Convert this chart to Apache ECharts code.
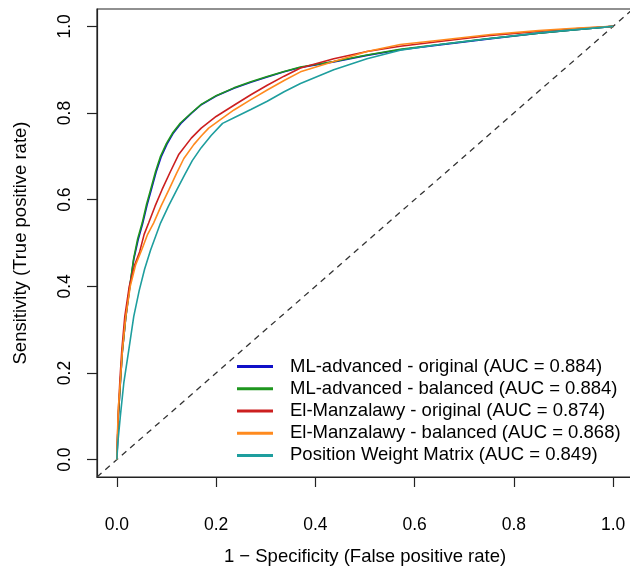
<!DOCTYPE html>
<html>
<head>
<meta charset="utf-8">
<script src="https://cdn.jsdelivr.net/npm/echarts@6/dist/echarts.min.js"></script>
<style>
html,body{margin:0;padding:0;background:#fff;}
#c{width:630px;height:567px;}
</style>
</head>
<body>
<div id="c"></div>
<script>
// ---- Data ----
const seriesNames = [
  'ML-advanced - original (AUC = 0.884)',
  'ML-advanced - balanced (AUC = 0.884)',
  'El-Manzalawy - original (AUC = 0.874)',
  'El-Manzalawy - balanced (AUC = 0.868)',
  'Position Weight Matrix (AUC = 0.849)'
];
const tickValues = [0, 0.2, 0.4, 0.6, 0.8, 1.0];

const fprMLorig = [0, 0.001, 0.003, 0.007, 0.011, 0.018, 0.026, 0.034, 0.043, 0.052, 0.061, 0.069, 0.079, 0.089, 0.101, 0.114, 0.129, 0.15, 0.17, 0.2, 0.236, 0.27, 0.303, 0.337, 0.37, 0.437, 0.504, 0.571, 0.65, 0.75, 0.85, 0.93, 1];
const tprMLorig = [0, 0.03, 0.1, 0.176, 0.248, 0.328, 0.398, 0.462, 0.508, 0.545, 0.588, 0.621, 0.663, 0.698, 0.728, 0.754, 0.776, 0.799, 0.819, 0.839, 0.857, 0.871, 0.883, 0.895, 0.905, 0.918, 0.933, 0.946, 0.957, 0.971, 0.984, 0.993, 1];

const fprMLbal = [0, 0.001, 0.003, 0.007, 0.011, 0.018, 0.026, 0.034, 0.042, 0.051, 0.06, 0.068, 0.078, 0.088, 0.1, 0.113, 0.128, 0.15, 0.17, 0.2, 0.236, 0.27, 0.303, 0.337, 0.37, 0.437, 0.504, 0.571, 0.65, 0.75, 0.85, 0.93, 1];
const tprMLbal = [0, 0.03, 0.1, 0.177, 0.25, 0.33, 0.4, 0.465, 0.51, 0.546, 0.59, 0.623, 0.665, 0.7, 0.73, 0.755, 0.777, 0.8, 0.82, 0.84, 0.858, 0.872, 0.884, 0.896, 0.906, 0.919, 0.934, 0.947, 0.958, 0.972, 0.984, 0.993, 1];

const fprElOrig = [0, 0.001, 0.003, 0.006, 0.01, 0.016, 0.025, 0.036, 0.046, 0.055, 0.064, 0.077, 0.091, 0.108, 0.125, 0.15, 0.17, 0.2, 0.236, 0.27, 0.303, 0.337, 0.37, 0.437, 0.504, 0.571, 0.65, 0.753, 0.85, 0.93, 1];
const tprElOrig = [0, 0.04, 0.11, 0.18, 0.253, 0.33, 0.4, 0.45, 0.48, 0.52, 0.546, 0.585, 0.623, 0.665, 0.705, 0.742, 0.765, 0.792, 0.818, 0.842, 0.864, 0.885, 0.904, 0.925, 0.942, 0.954, 0.965, 0.979, 0.988, 0.995, 1];

const fprElBal = [0, 0.001, 0.003, 0.007, 0.011, 0.018, 0.027, 0.038, 0.05, 0.062, 0.074, 0.089, 0.105, 0.12, 0.135, 0.155, 0.17, 0.185, 0.21, 0.236, 0.27, 0.303, 0.337, 0.37, 0.437, 0.504, 0.571, 0.65, 0.753, 0.85, 0.93, 1];
const tprElBal = [0, 0.05, 0.12, 0.18, 0.25, 0.33, 0.4, 0.45, 0.484, 0.52, 0.546, 0.585, 0.623, 0.66, 0.695, 0.727, 0.747, 0.765, 0.786, 0.807, 0.831, 0.853, 0.875, 0.895, 0.919, 0.942, 0.958, 0.968, 0.981, 0.99, 0.996, 1];

const fprPWM = [0, 0.002, 0.007, 0.014, 0.024, 0.034, 0.045, 0.056, 0.068, 0.078, 0.088, 0.104, 0.121, 0.136, 0.152, 0.17, 0.19, 0.213, 0.236, 0.27, 0.303, 0.337, 0.37, 0.437, 0.504, 0.571, 0.65, 0.753, 0.85, 0.93, 1];
const tprPWM = [0, 0.04, 0.1, 0.177, 0.253, 0.33, 0.39, 0.44, 0.484, 0.515, 0.546, 0.585, 0.623, 0.656, 0.69, 0.72, 0.748, 0.776, 0.789, 0.808, 0.827, 0.849, 0.868, 0.9, 0.925, 0.945, 0.958, 0.972, 0.985, 0.993, 1];

const diagX = [-0.04, 1.04];
const diagY = [-0.04, 1.04];

// ---- Build ----
const zip = (xs, ys) => xs.map((x, i) => [x, ys[i]]);
const colors = ['#1010C8', '#1E961E', '#CC1F1F', '#FF8A1E', '#1E9E9E'];
const curves = [
  zip(fprMLorig, tprMLorig),
  zip(fprMLbal, tprMLbal),
  zip(fprElOrig, tprElOrig),
  zip(fprElBal, tprElBal),
  zip(fprPWM, tprPWM)
];

const FONT = '"Liberation Sans", Arial, Helvetica, sans-serif';

const series = curves.map((d, i) => ({
  name: seriesNames[i],
  type: 'line',
  data: d,
  showSymbol: false,
  symbol: 'none',
  smooth: false,
  lineStyle: { color: colors[i], width: 1.6 },
  itemStyle: { color: colors[i] },
  z: 3 + i
}));
series.push({
  name: 'diag',
  type: 'line',
  data: zip(diagX, diagY),
  showSymbol: false,
  symbol: 'none',
  lineStyle: { color: '#333', width: 1.3, type: [6, 5] },
  z: 2
});

const chart = echarts.init(document.getElementById('c'), null, { renderer: 'canvas' });
chart.setOption({
  animation: false,
  backgroundColor: '#fff',
  textStyle: { fontFamily: FONT },
  grid: { left: 97, top: 9, width: 536, height: 468, outerBoundsMode: 'none', containLabel: false, show: true, borderColor: '#222', borderWidth: 1.2, backgroundColor: 'transparent' },
  legend: {
    data: seriesNames,
    orient: 'vertical',
    left: 237,
    top: 355.5,
    itemWidth: 36,
    itemHeight: 3,
    itemGap: 0,
    icon: 'rect',
    padding: 0,
    textStyle: { fontFamily: FONT, fontSize: 18.5, color: '#000', lineHeight: 22.2, padding: [0, 0, 0, 12] }
  },
  xAxis: {
    type: 'value',
    min: -0.04,
    max: 1.04,
    name: '1 \u2212 Specificity (False positive rate)',
    nameLocation: 'middle',
    nameGap: 70,
    nameTextStyle: { fontFamily: FONT, fontSize: 18.5, color: '#000' },
    axisLine: { show: true, onZero: false, lineStyle: { color: '#222', width: 1.2 } },
    splitLine: { show: false },
    axisTick: { show: true, inside: false, customValues: tickValues, length: 10, lineStyle: { color: '#222', width: 1.2 } },
    axisLabel: { customValues: tickValues, formatter: v => v.toFixed(1), fontSize: 17.5, color: '#000', margin: 39, fontFamily: FONT }
  },
  yAxis: {
    type: 'value',
    min: -0.04,
    max: 1.04,
    name: 'Sensitivity (True positive rate)',
    nameLocation: 'middle',
    nameGap: 67,
    nameRotate: 90,
    nameTextStyle: { fontFamily: FONT, fontSize: 18.5, color: '#000' },
    axisLine: { show: true, onZero: false, lineStyle: { color: '#222', width: 1.2 } },
    splitLine: { show: false },
    axisTick: { show: true, inside: false, customValues: tickValues, length: 10, lineStyle: { color: '#222', width: 1.2 } },
    axisLabel: { customValues: tickValues, formatter: v => v.toFixed(1), fontSize: 17.5, color: '#000', margin: 23, rotate: 90, fontFamily: FONT }
  },
  series: series
});
</script>
</body>
</html>
